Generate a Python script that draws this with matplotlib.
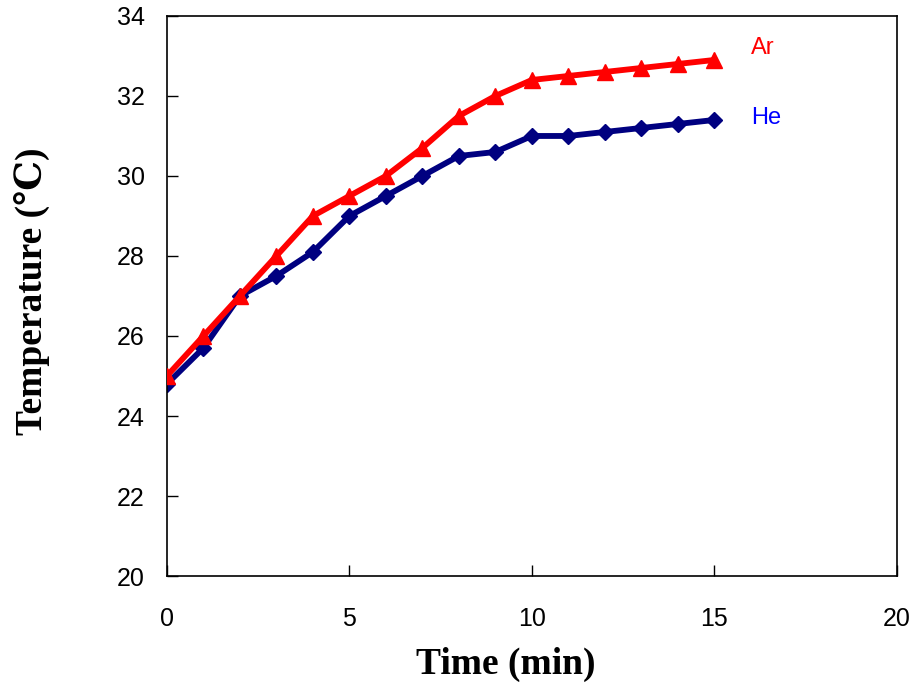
import matplotlib
matplotlib.use("Agg")
import matplotlib.pyplot as plt

# data
time_min = [0, 1, 2, 3, 4, 5, 6, 7, 8, 9, 10, 11, 12, 13, 14, 15]
temp_ar = [25.0, 26.0, 27.0, 28.0, 29.0, 29.5, 30.0, 30.7, 31.5, 32.0,
           32.4, 32.5, 32.6, 32.7, 32.8, 32.9]
temp_he = [24.8, 25.7, 27.0, 27.5, 28.1, 29.0, 29.5, 30.0, 30.5, 30.6,
           31.0, 31.0, 31.1, 31.2, 31.3, 31.4]
x_ticks = [0, 5, 10, 15, 20]
y_ticks = [20, 22, 24, 26, 28, 30, 32, 34]

fig = plt.figure(figsize=(9.17, 6.94), dpi=100)
ax = fig.add_axes([0.182, 0.170, 0.796, 0.807])

ax.plot(time_min, temp_he, color="#000080", lw=4.2, marker="D", ms=8, zorder=2)
ax.plot(time_min, temp_ar, color="#FF0000", lw=4.2, marker="^", ms=11, zorder=3)

ax.text(16.0, 33.2, "Ar", color="#FF0000", fontsize=17,
        family="Liberation Sans", va="center", ha="left")
ax.text(16.0, 31.45, "He", color="#0000FF", fontsize=17,
        family="Liberation Sans", va="center", ha="left")

ax.set_xlim(0, 20)
ax.set_ylim(20, 34)
ax.set_xticks(x_ticks)
ax.set_yticks(y_ticks)
ax.tick_params(direction="in", length=8, width=1)
ax.tick_params(axis="y", pad=16)
ax.tick_params(axis="x", pad=22)
for lab in ax.get_xticklabels() + ax.get_yticklabels():
    lab.set_family("Liberation Sans")
    lab.set_fontsize(18)
for s in ax.spines.values():
    s.set_linewidth(1.2)

ax.set_xlabel("Time (min)", fontsize=27, fontweight="bold",
              family=["Liberation Serif", "DejaVu Serif"])
ax.set_ylabel("Temperature (℃)", fontsize=27, fontweight="bold",
              family=["Liberation Serif", "DejaVu Serif"])
ax.xaxis.set_label_coords(0.464, -0.158)
ax.yaxis.set_label_coords(-0.185, 0.508)
ax.xaxis.label.set_va("center")
ax.yaxis.label.set_va("center")

fig.savefig("out.png", dpi=100)
